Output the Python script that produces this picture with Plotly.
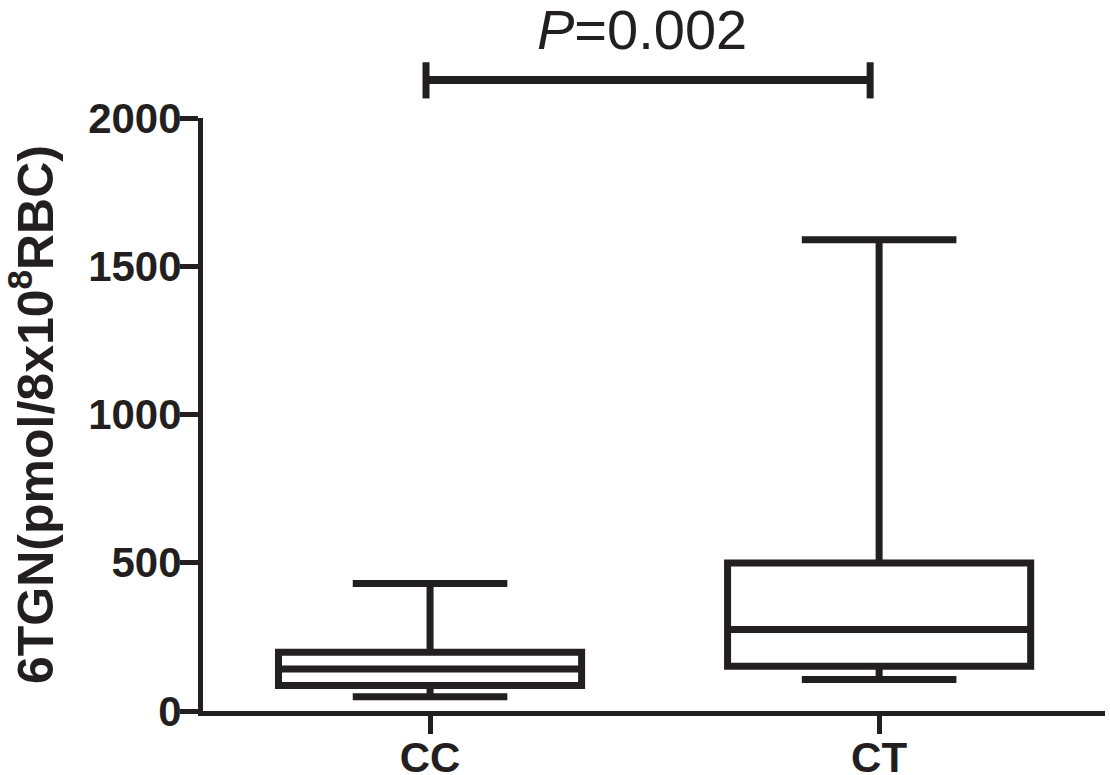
import plotly.graph_objects as go

categories = ["CC", "CT"]
lower_whisker = [48, 106]
q1_values = [86, 151]
median_values = [142, 275]
q3_values = [198, 499]
upper_whisker = [430, 1589]
y_tick_values = [0, 500, 1000, 1500, 2000]
p_label = "<i>P</i>=0.002"
y_title = "6TGN(pmol/8x10<sup>8</sup>RBC)"

ink = "#231f20"
font_bold = "Liberation Sans"
positions = list(range(len(categories)))

fig = go.Figure()
fig.add_trace(go.Box(
    x=positions,
    q1=q1_values,
    median=median_values,
    q3=q3_values,
    lowerfence=lower_whisker,
    upperfence=upper_whisker,
    width=0.675,
    whiskerwidth=0.51,
    boxpoints=False,
    line=dict(color=ink, width=7),
    fillcolor="rgba(255,255,255,0)",
    showlegend=False,
    hoverinfo="skip",
))

# significance bracket between the two groups
bar_y = 1.064
bar_x = (positions[0] - 0.009, positions[1] - 0.02)
fig.add_shape(type="line", xref="x", yref="paper", x0=bar_x[0], x1=bar_x[1],
              y0=bar_y, y1=bar_y, line=dict(color=ink, width=8))
for xp in bar_x:
    fig.add_shape(type="line", xref="x", yref="paper", x0=xp, x1=xp,
                  y0=1.033, y1=1.094, line=dict(color=ink, width=7))

fig.add_annotation(text=p_label, xref="paper", yref="paper", x=0.4867, y=1.150,
                   xanchor="center", yanchor="middle", showarrow=False,
                   font=dict(family="Liberation Sans", size=56, color=ink))

fig.update_layout(
    width=1110, height=775,
    margin=dict(l=203, r=5, t=118, b=64, autoexpand=False),
    paper_bgcolor="white", plot_bgcolor="white",
    font=dict(family=font_bold, color=ink),
    xaxis=dict(
        range=[-0.5056, 1.503],
        tickvals=positions, ticktext=["<b>%s</b>" % c for c in categories],
        tickfont=dict(size=42, family=font_bold, color=ink),
        showline=True, linecolor=ink, linewidth=5,
        ticks="outside", ticklen=18, tickwidth=5, tickcolor=ink,
        ticklabelstandoff=-12,
        showgrid=False, zeroline=False,
    ),
    yaxis=dict(
        range=[0, 2000],
        tickvals=y_tick_values, ticktext=["<b>%d</b>" % v for v in y_tick_values],
        tickfont=dict(size=42, family=font_bold, color=ink),
        showline=True, linecolor=ink, linewidth=5,
        ticks="outside", ticklen=18, tickwidth=5, tickcolor=ink,
        ticklabelstandoff=-10,
        showgrid=False, zeroline=False,
        title=dict(text="<b>" + y_title + "</b>", standoff=33,
                   font=dict(size=50, family=font_bold, color=ink)),
    ),
)

fig.write_html("out.html", config={"displayModeBar": False},
               post_script="document.body.style.margin='0px';document.body.style.overflow='hidden';")
